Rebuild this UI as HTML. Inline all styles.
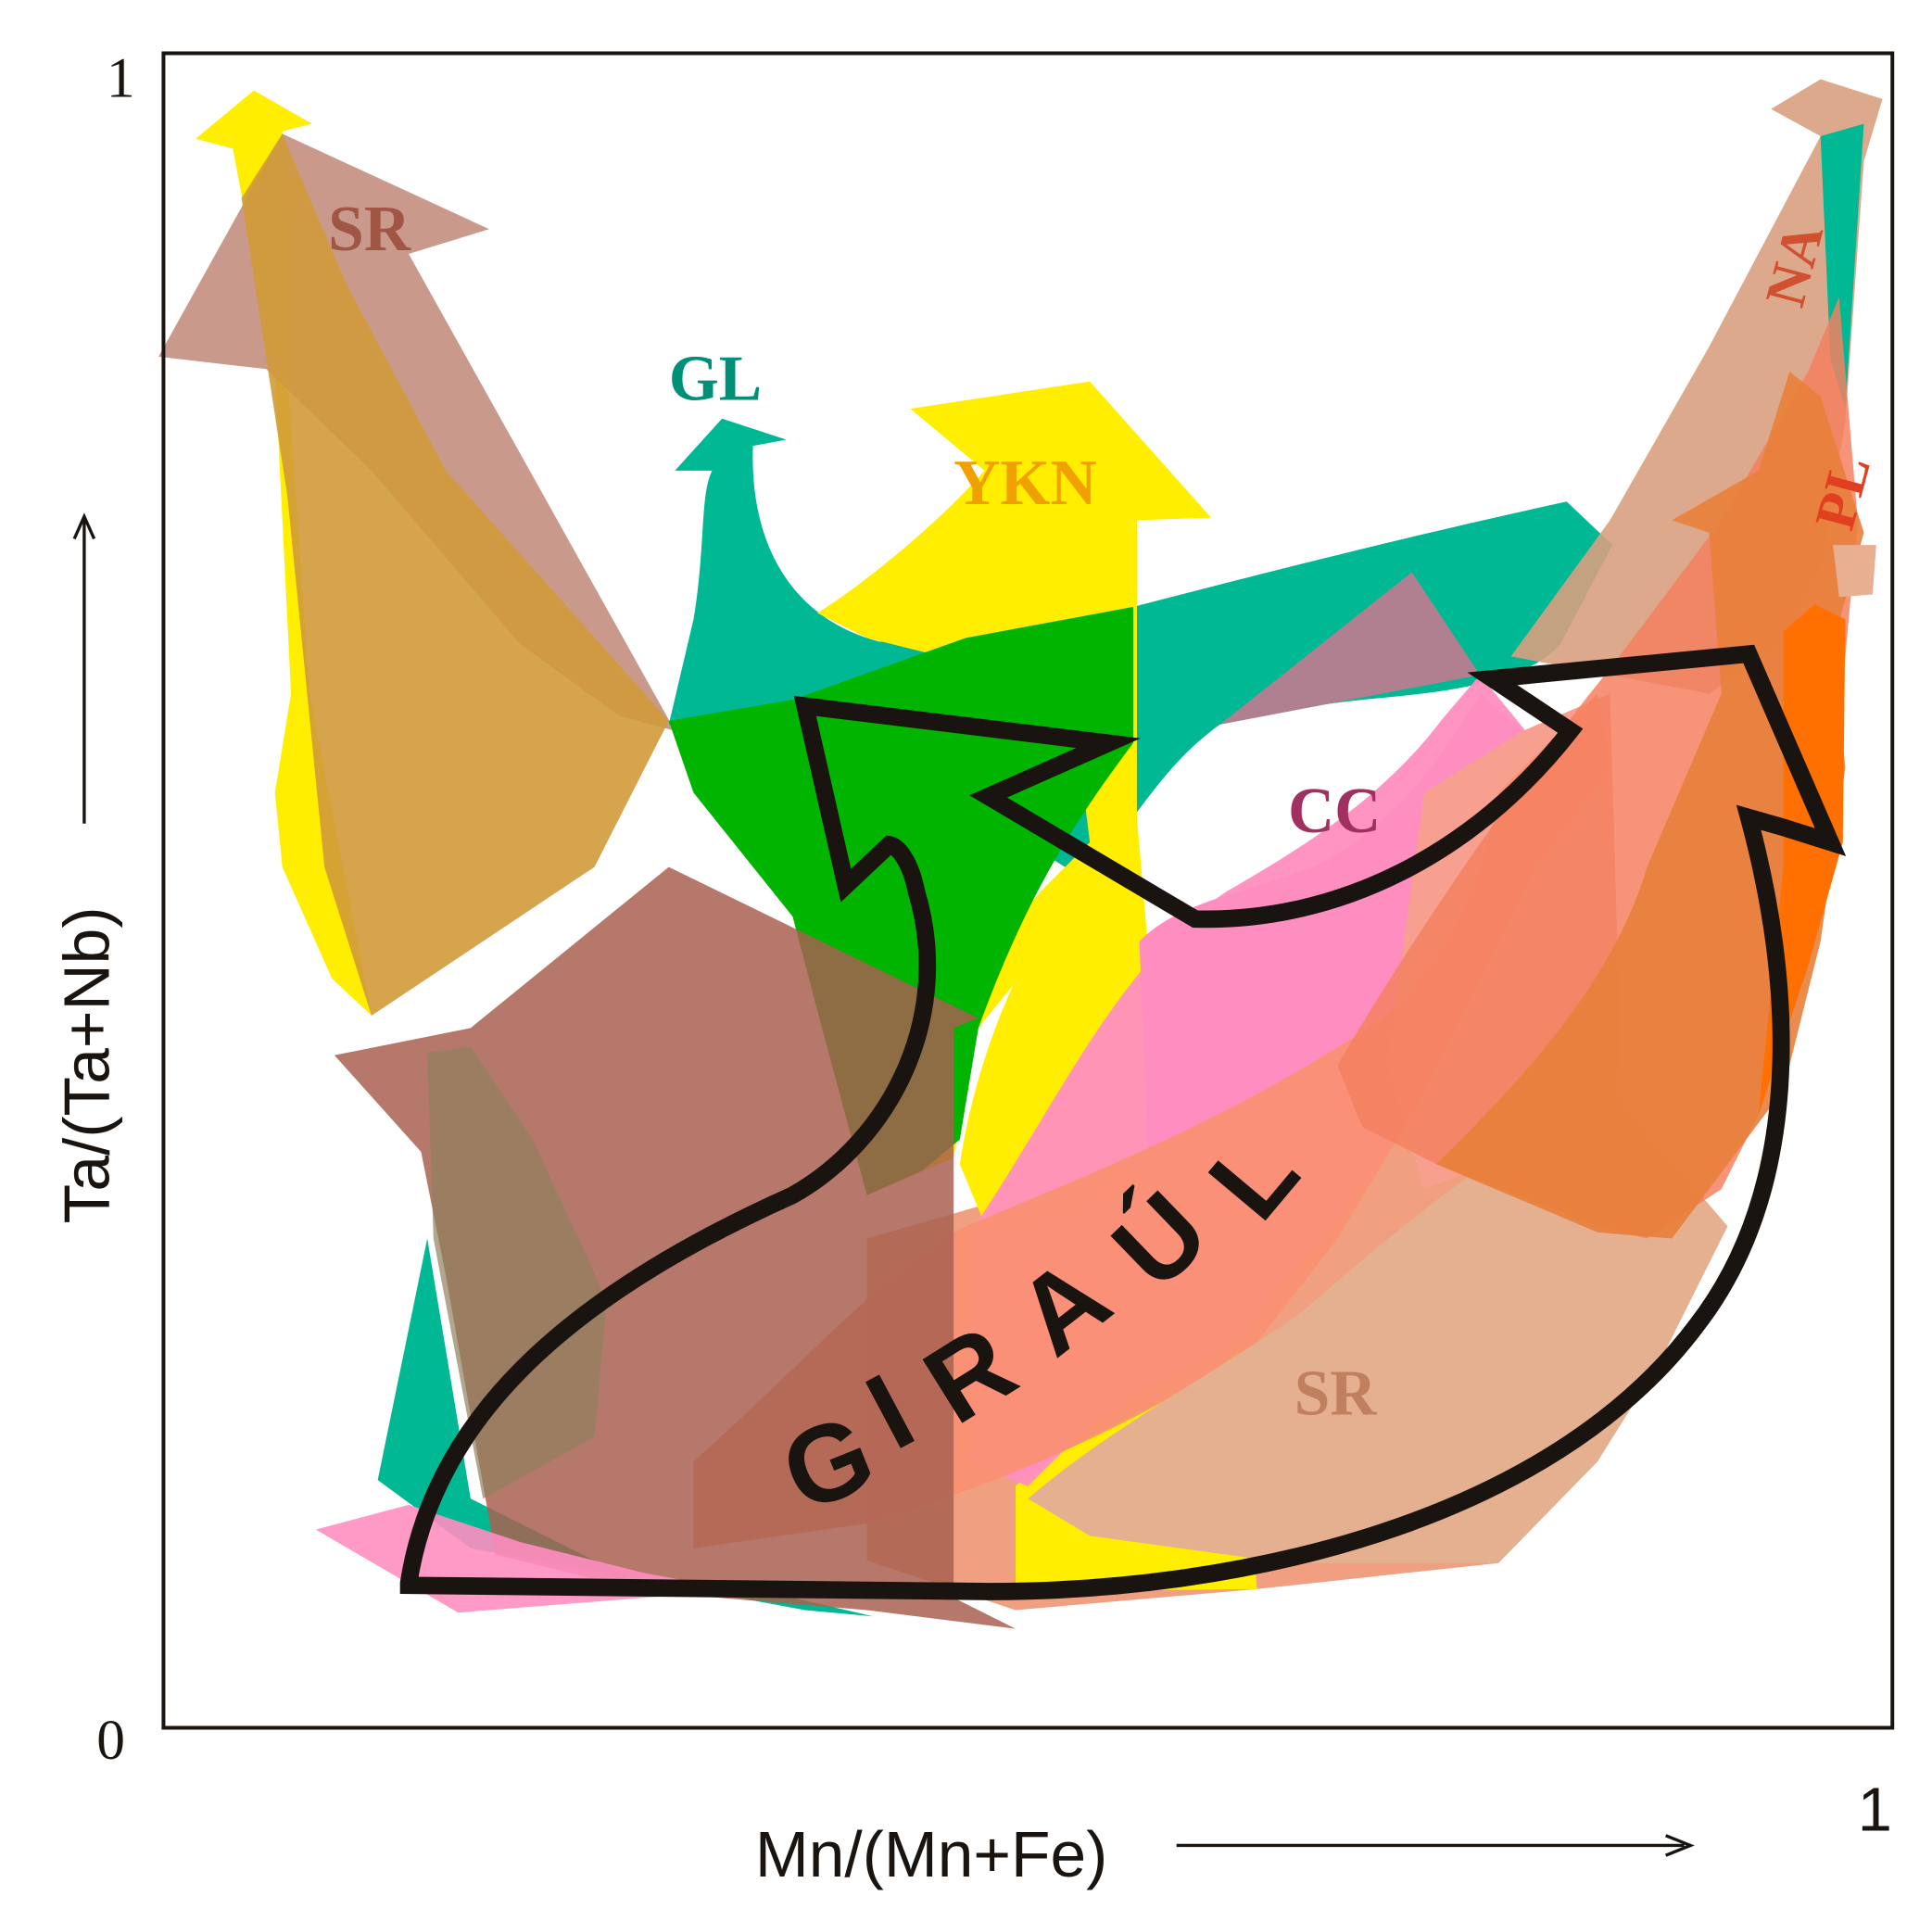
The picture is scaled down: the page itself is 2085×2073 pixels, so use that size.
<!DOCTYPE html>
<html><head><meta charset="utf-8"><style>
html,body{margin:0;padding:0;background:#fff;}
svg{display:block;}
</style></head><body>
<svg width="2085" height="2073" viewBox="0 0 1560 1551" preserveAspectRatio="none" xmlns="http://www.w3.org/2000/svg">
<rect width="1560" height="1551" fill="#fff"/>
<g stroke="none">
<!-- base salmon fill lower middle -->
<path d="M700,1000 L1150,870 L1300,900 L1210,1262 L1015,1283 L820,1300 L700,1260 Z" fill="#f0a080"/>
<!-- left yellow arrow -->
<path d="M158,112 L205,73 L252,100 L228,106 L232,300 L250,560 L300,820 L268,790 L228,700 L222,640 L235,560 L222,300 L188,120 Z" fill="#ffee00"/>
<path d="M228,108 L395,185 L330,205 L545,590 L500,578 L420,520 L300,380 L215,298 L128,288 Z" fill="#c08878" opacity="0.85"/>
<path d="M195,160 L228,108 L280,230 L360,380 L540,582 L480,700 L300,820 L262,700 L232,400 Z" fill="#d09a3a" opacity="0.9"/>
<path d="M545,380 L583,338 L635,355 L608,360 C605,440 640,500 710,518 C800,520 870,500 915,490 C1050,455 1150,430 1265,405 L1302,440 L1260,520 C1230,555 1150,560 1100,565 C1050,570 1010,580 985,585 C950,610 930,640 900,680 L860,700 L700,600 L540,585 L560,500 C570,440 565,400 575,380 Z" fill="#00b894"/>
<path d="M305,1195 L345,1000 L380,1210 L520,1280 L640,1290 L705,1305 L650,1300 L380,1250 Z" fill="#00b894"/>
<path d="M735,330 L880,308 L978,418 L918,420 L918,700 C880,720 830,780 790,830 L770,935 L700,965 L690,900 L760,820 L840,720 L880,680 L870,600 L800,540 L700,515 L660,495 C700,470 760,420 795,380 Z" fill="#ffee00"/>
<path d="M775,940 C790,840 840,720 918,660 L930,800 L930,960 L800,1000 Z" fill="#ffee00"/>
<path d="M820,1200 C860,1160 960,1130 1000,1090 L1015,1283 L820,1285 Z" fill="#ffee00"/>
<path d="M540,582 L640,565 L780,515 L915,490 L915,600 C870,660 830,720 790,830 L775,920 L745,945 L700,965 L665,835 L640,740 L560,640 Z" fill="#00b400"/>
<path d="M920,760 C950,730 990,725 1060,700 C1120,670 1160,620 1195,560 L1240,600 L1180,640 L1170,700 L1140,900 L1100,960 L1000,1080 L930,1000 Z" fill="#ff8ec0"/>
<path d="M780,1000 C850,900 900,780 990,720 C1060,680 1120,640 1165,580 L1195,545 L1240,600 L1180,640 L1170,700 L1140,900 L1100,960 L1000,1080 L880,1150 L830,1200 L780,1180 Z" fill="#ff8ec0" opacity="0.95"/>
<path d="M985,585 L1140,462 L1195,545 Z" fill="#b08090"/>
<path d="M1150,640 L1230,590 L1300,560 L1310,900 L1150,960 L1120,860 Z" fill="#f7a090"/>
<path d="M560,1180 C650,1100 720,1020 780,990 C900,940 1000,900 1120,820 C1180,760 1200,700 1210,640 L1290,560 L1300,620 L1240,700 L1140,900 L1080,1000 L1010,1090 C900,1160 800,1200 700,1230 L560,1250 Z" fill="#f99070" opacity="0.9"/>
<path d="M830,1210 C900,1150 980,1110 1050,1060 C1120,1000 1200,930 1300,880 L1395,990 L1340,1100 L1290,1180 L1210,1262 L1040,1262 L880,1240 Z" fill="#e4b090"/>
<path d="M1220,530 L1300,420 L1380,280 L1470,110 L1430,88 L1470,64 L1520,80 L1505,130 L1490,340 L1470,460 L1440,520 L1380,560 Z" fill="#d8a080" opacity="0.9"/>
<path d="M1470,110 L1505,100 L1490,330 L1478,290 Z" fill="#00b894"/>
<path d="M1080,860 C1150,740 1250,600 1300,540 L1390,420 L1460,300 L1485,240 L1500,420 L1480,640 L1460,700 L1420,900 L1390,960 L1330,1000 L1290,990 L1160,940 L1100,910 Z" fill="#f48060" opacity="0.85"/>
<path d="M1160,940 C1220,880 1300,800 1330,700 L1390,560 L1380,430 L1350,420 L1420,380 L1445,300 L1470,320 L1505,430 L1480,520 L1490,620 L1470,760 L1440,880 L1350,1000 L1290,995 Z" fill="#e8803a" opacity="0.9"/>
<path d="M1440,510 L1465,488 L1490,500 L1488,680 L1460,780 L1420,900 L1440,700 Z" fill="#ff7000"/>
<path d="M1480,440 L1515,440 L1512,480 L1485,482 Z" fill="#e8b090"/>
<path d="M270,852 L380,830 L540,700 L790,822 L770,830 L770,1290 L820,1315 L700,1300 L520,1285 L400,1255 L360,1030 L340,930 Z" fill="#a86050" opacity="0.85"/>
<path d="M345,850 L380,845 L430,920 L490,1050 L480,1160 L390,1210 L350,1000 Z" fill="#908060" opacity="0.7"/>
<path d="M255,1235 L330,1215 L420,1245 L520,1270 L600,1285 L520,1290 L370,1302 Z" fill="#ff8ec0" opacity="0.9"/>
</g>
<path d="M330,1278 C350,1150 450,1050 640,965 C720,920 770,820 740,720 C735,695 725,683 718,682 L683,715 L650,570 L895,600 L798,643 L965,742 C1080,745 1190,690 1268,590 L1205,548 L1412,528 L1478,680 L1440,668 L1412,660 C1450,800 1455,960 1370,1070 C1250,1230 1000,1285 800,1285 L330,1280 Z" fill="none" stroke="#1a1410" stroke-width="14" stroke-linejoin="miter"/>
<g font-family="Liberation Sans, sans-serif" font-weight="bold" font-size="88" fill="#1a1410">
<text transform="translate(648,1222) rotate(-22)">G</text>
<text transform="translate(722,1172) rotate(-28)">I</text>
<text transform="translate(772,1152) rotate(-32)">R</text>
<text transform="translate(852,1098) rotate(-38)">A</text>
<text transform="translate(935,1045) rotate(-44)">Ú</text>
<text transform="translate(1018,990) rotate(-50)">L</text>
</g>
<g font-family="Liberation Serif, serif" font-weight="bold" font-size="52">
<text x="265" y="202" fill="#a05545">SR</text>
<text x="540" y="323" fill="#00907a">GL</text>
<text x="770" y="407" fill="#f0a000">YKN</text>
<text x="1040" y="672" fill="#a03060">CC</text>
<text x="1045" y="1142" fill="#c08060">SR</text>
<text transform="translate(1455,250) rotate(-75)" fill="#d05030" font-size="46">NA</text>
<text transform="translate(1495,430) rotate(-75)" fill="#e04020" font-size="46">PL</text>
</g>
<rect x="132" y="43" width="1396" height="1352" fill="none" stroke="#1a1410" stroke-width="3"/>
<g font-family="Liberation Serif, serif" font-size="46" fill="#1a1410">
<text x="86" y="78">1</text>
<text x="78" y="1420">0</text>
</g>
<g font-family="Liberation Sans, sans-serif" fill="#1a1410">
<text x="1500" y="1478" font-size="50">1</text>
<text x="752" y="1515" font-size="52" text-anchor="middle">Mn/(Mn+Fe)</text>
<text transform="translate(88,860) rotate(-90)" font-size="52" text-anchor="middle">Ta/(Ta+Nb)</text>
</g>
<line x1="950" y1="1490" x2="1360" y2="1490" stroke="#1a1410" stroke-width="2.5"/>
<path d="M1345,1482 L1365,1490 L1345,1498" fill="none" stroke="#1a1410" stroke-width="2.5"/>
<line x1="68" y1="665" x2="68" y2="420" stroke="#1a1410" stroke-width="2.5"/>
<path d="M60,435 L68,417 L76,435" fill="none" stroke="#1a1410" stroke-width="2.5"/>
</svg>
</body></html>
